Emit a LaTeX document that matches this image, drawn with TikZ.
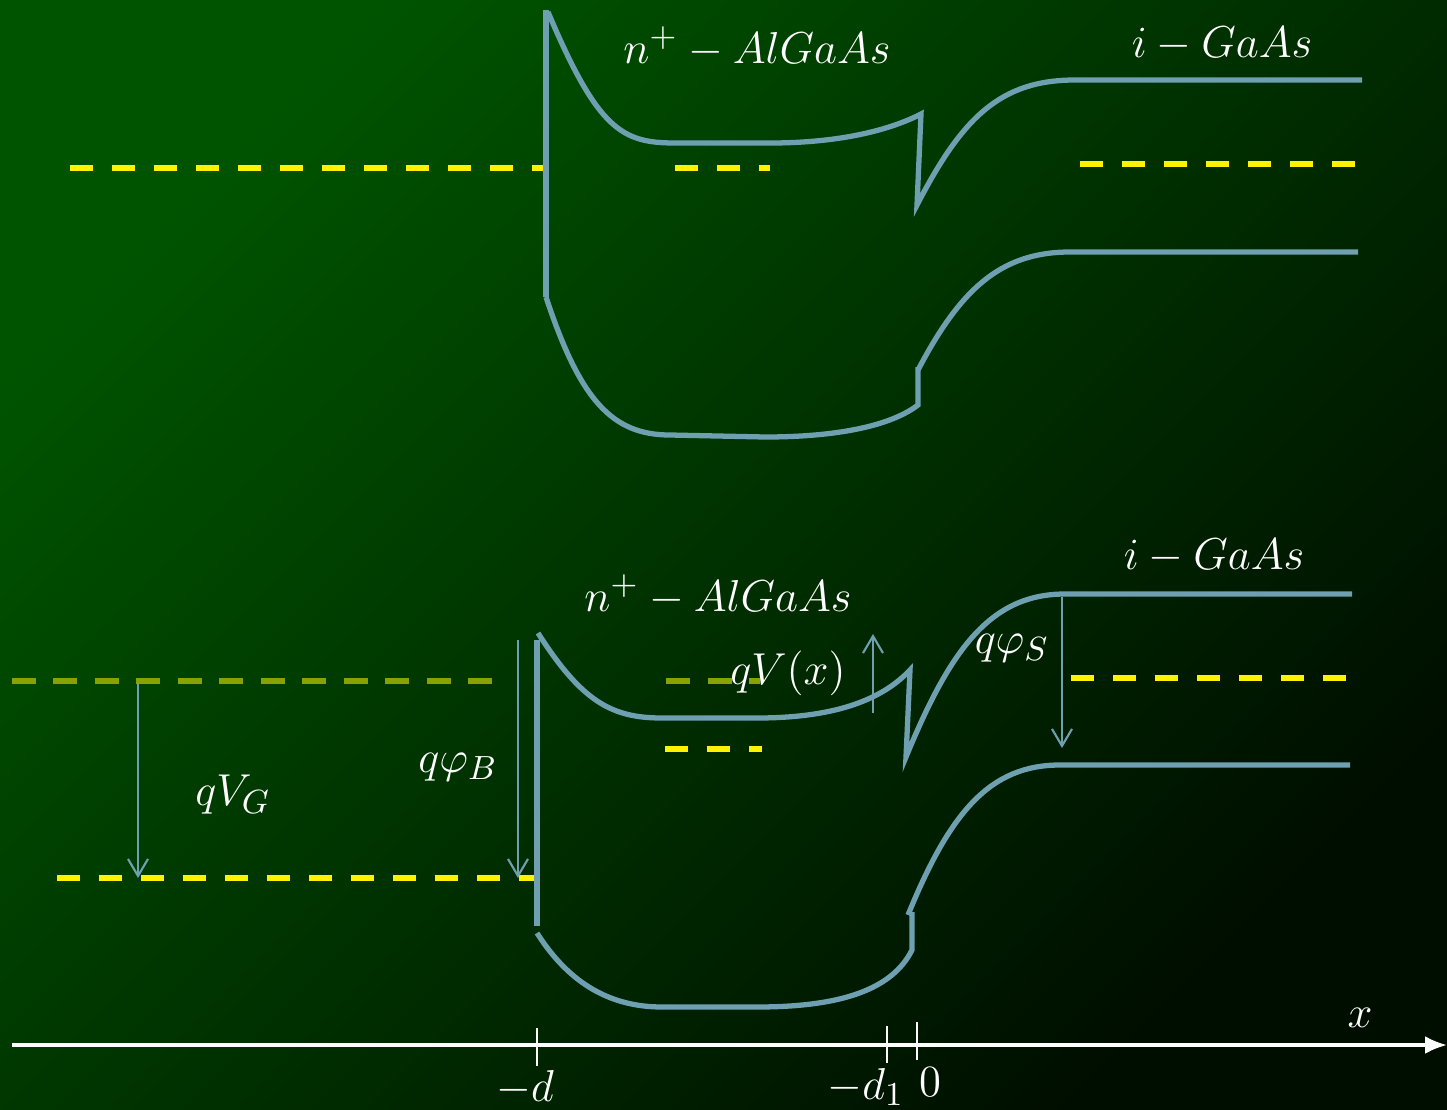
\documentclass[tikz,border=0pt]{standalone}
\usepackage{amsmath,amssymb}
\usepackage{tikz}
\usepackage{xcolor}
\usetikzlibrary{arrows.meta}

\definecolor{bandblue}{RGB}{111,160,178}
\definecolor{olivedot}{RGB}{138,162,0}
\definecolor{bgtop}{RGB}{0,84,0}
\definecolor{bgbot}{RGB}{0,14,0}
\newcommand{\lblm}[1]{\scalebox{1.06}{$#1$}}

\begin{document}
\begin{tikzpicture}[x=0.1mm,y=-0.1mm,font=\fontsize{13}{15}\selectfont,
  band/.style={draw=bandblue,line width=1.5pt},
  fermi/.style={draw=yellow,line width=1.7pt,dash pattern=on 2.3mm off 1.9mm},
  fermiold/.style={draw=olivedot,line width=1.6pt,dash pattern=on 2.4mm off 1.75mm},
  meas/.style={draw=bandblue,line width=0.6pt,-{Straight Barb[length=1.7mm,width=2mm]}},
  lbl/.style={text=white,inner sep=1pt}]
  \useasboundingbox (0,0) rectangle (1447,1110);
  \shade[top color=bgtop,bottom color=bgbot,shading angle=45] (0,0) rectangle (1447,1110);

  % equilibrium
  \draw[fermi] (70,168) -- (548,168);
  \draw[fermi] (675,168) -- (770,168);
  \draw[fermi] (1080,164) -- (1356,164);
  \draw[band] (546,297) -- (546,10);
  \draw[band] (548,12) .. controls (598,130) and (622,143) .. (675,143) -- (770,143)
    .. controls (840,143) and (890,130) .. (921,114) -- (917,205)
    .. controls (962,118) and (1000,80) .. (1075,80) -- (1362,80);
  \draw[band] (546,297) .. controls (580,400) and (612,435) .. (670,435) -- (765,437)
    .. controls (840,437) and (892,425) .. (918,405) -- (918,367);
  \draw[band] (918,370) .. controls (960,290) and (1000,252) .. (1070,252) -- (1358,252);
  \node[lbl] (algaasA) at (757,47) {\lblm{n^+ - AlGaAs}};
  \node[lbl] (gaasA) at (1222,44) {\lblm{i - GaAs}};

  % under gate bias
  \draw[fermiold] (12,681) -- (492,681);
  \draw[fermiold] (666,681) -- (760,681);
  \draw[fermi] (57,878) -- (537,878);
  \draw[fermi] (665,749) -- (762,749);
  \draw[fermi] (1071,678) -- (1350,678);
  \draw[band] (537,640) -- (537,926);
  \draw[band] (538,633) .. controls (582,702) and (612,718) .. (662,718) -- (757,718)
    .. controls (830,718) and (880,702) .. (910,670) -- (906,757)
    .. controls (950,650) and (990,594) .. (1065,594) -- (1352,594);
  \draw[band] (537,933) .. controls (570,985) and (612,1007) .. (662,1007) -- (757,1007)
    .. controls (840,1007) and (892,990) .. (912,950) -- (912,912);
  \draw[band] (908,915) .. controls (950,812) and (990,765) .. (1060,765) -- (1350,765);
  \node[lbl] (algaasB) at (718,595) {\lblm{n^+ - AlGaAs}};
  \node[lbl] (gaasB) at (1214,556) {\lblm{i - GaAs}};

  \coordinate (vgtop) at (138,683);
  \coordinate (vgbot) at (138,878);
  \coordinate (phibtop) at (518,640);
  \coordinate (phibbot) at (518,878);
  \coordinate (vxbot) at (873,713);
  \coordinate (vxtop) at (873,634);
  \coordinate (phistop) at (1062,597);
  \coordinate (phisbot) at (1062,748);
  \draw[meas] (vgtop) -- (vgbot);
  \draw[meas] (phibtop) -- (phibbot);
  \draw[meas] (vxbot) -- (vxtop);
  \draw[meas] (phistop) -- (phisbot);
  \node[lbl] (qvg) at (233,795) {\lblm{qV_G}};
  \node[lbl] (qphib) at (458,767) {\lblm{q\varphi_B}};
  \node[lbl] (qvx) at (788,673) {\lblm{qV(x)}};
  \node[lbl] (qphis) at (1012,648) {\lblm{q\varphi_S}};

  % position axis
  \coordinate (axl) at (12,1045);
  \coordinate (axr) at (1447,1045);
  \draw[white,line width=0.9pt,-{Latex[length=2.2mm,width=1.8mm]}] (axl) -- (axr);
  \draw[white,line width=0.5pt] (537,1028) -- (537,1066)
    (887,1026) -- (887,1063) (917,1022) -- (917,1060);
  \node[lbl] (xlbl) at (1360,1018) {\lblm{x}};
  \node[lbl] (mdlbl) at (525,1088) {\lblm{-d}};
  \node[lbl] (md1lbl) at (866,1087) {\lblm{-d_1}};
  \node[lbl] (zlbl) at (930,1082) {\lblm{0}};
\end{tikzpicture}
\end{document}
